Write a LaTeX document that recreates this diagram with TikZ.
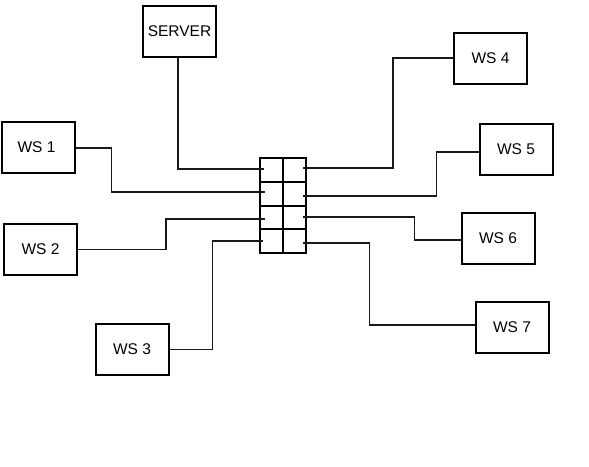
\documentclass[tikz,border=0pt]{standalone}
\usepackage{fontspec}
\setmainfont{Liberation Sans}
\begin{document}
\begin{tikzpicture}[x=1pt,y=-1pt,
  box/.style={draw=black,line width=2pt,minimum width=73pt,minimum height=51pt,inner sep=0pt,font=\fontsize{15.5}{18}\selectfont},
  wire/.style={draw=black!90,line width=1.7pt},
  sw/.style={draw=black,line width=2pt,minimum width=46pt,minimum height=95pt,inner sep=0pt}]
\useasboundingbox[fill=white] (0,0) rectangle (589,466);
% boxes
\node[box] (srv) at (179.5,31.5) {SERVER};
\node[box] (ws1) at (38,147.5) {\hspace*{-3pt}WS 1};
\node[box] (ws2) at (40.5,249.5) {WS 2};
\node[box] (ws3) at (132,349.5) {WS 3};
\node[box] (ws4) at (490.5,58) {WS 4};
\node[box] (ws5) at (516,149.5) {WS 5};
\node[box] (ws6) at (498,238.5) {WS 6};
\node[box] (ws7) at (512,327.5) {WS 7};
% switch
\node[sw] (hub) at (283,205.5) {};
\draw[line width=2pt] (hub.north) -- (hub.south);
\coordinate (h1) at (259,182);
\coordinate (h2) at (259,206);
\coordinate (h3) at (259,229);
\draw[line width=2pt] (h1) -- (h1 -| hub.east);
\draw[line width=2pt] (h2) -- (h2 -| hub.east);
\draw[line width=2pt] (h3) -- (h3 -| hub.east);
% ports
\coordinate (p1) at (264,169);
\coordinate (p2) at (265,192);
\coordinate (p3) at (265,219);
\coordinate (p4) at (263,241);
\coordinate (q1) at (303,168);
\coordinate (q2) at (303,196);
\coordinate (q3) at (303,217);
\coordinate (q4) at (303,243);
% connectors
\draw[wire] ([xshift=-1.5pt]srv.south) |- (p1);
\draw[wire] ([yshift=-0.5pt]ws1.east) -- ++(36,0) |- (p2);
\draw[wire] (ws2.east) -- ++(88,0) |- (p3);
\draw[wire] (ws3.east) -- ++(43,0) |- (p4);
\draw[wire] (ws4.west) -- ++(-60,0) |- (q1);
\draw[wire] ([yshift=-2.5pt]ws5.west) -- ++(-42,0) |- (q2);
\draw[wire] ([yshift=-1.5pt]ws6.west) -- ++(-46,0) |- (q3);
\draw[wire] ([yshift=2.5pt]ws7.west) -- ++(-105,0) |- (q4);
\end{tikzpicture}
\end{document}
